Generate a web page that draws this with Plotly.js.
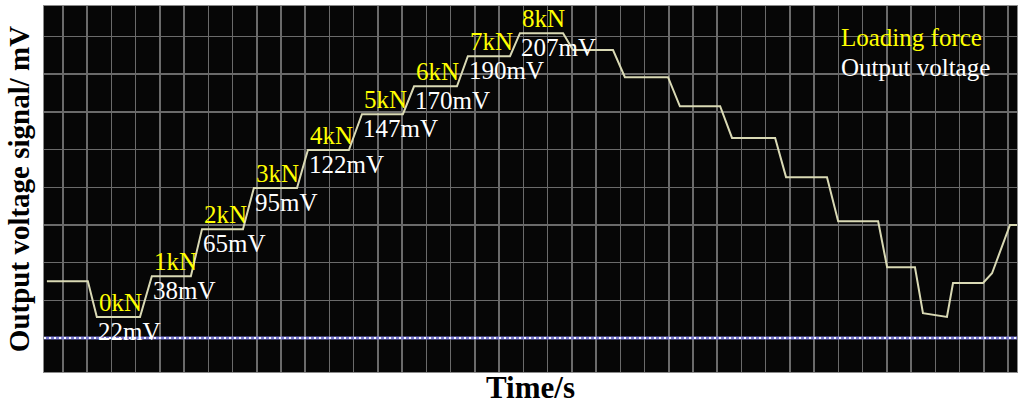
<!DOCTYPE html>
<html>
<head>
<meta charset="utf-8">
<script src="https://cdn.plot.ly/plotly-3.0.1.min.js"></script>
<style>html,body{margin:0;padding:0;background:#fff;}#chart{width:1024px;height:410px;}</style>
</head>
<body>
<div id="chart"></div>
<script>
// Oscilloscope trace (time in grid divisions, voltage in grid divisions)
const timeDiv = [-0.66, 1.03, 1.40, 3.18, 3.67, 5.28, 5.74, 7.43, 7.88, 9.66, 10.11, 11.80, 12.34, 14.03, 14.49, 16.26, 16.71, 18.45, 18.86, 20.64, 21.05, 22.70, 23.19, 24.97, 25.46, 27.12, 27.61, 29.39, 29.84, 31.53, 31.99, 33.64, 34.01, 35.16, 35.49, 36.48, 36.73, 37.97, 38.34, 39.08, 39.37];
const voltDiv = [1.51, 1.51, 0.56, 0.56, 1.64, 1.64, 2.89, 2.89, 3.98, 3.98, 4.99, 4.99, 5.94, 5.94, 6.68, 6.68, 7.48, 7.48, 8.09, 8.09, 7.64, 7.64, 6.92, 6.92, 6.15, 6.15, 5.31, 5.31, 4.27, 4.27, 3.10, 3.10, 1.88, 1.88, 0.66, 0.56, 1.46, 1.46, 1.72, 3.00, 3.00];
// Loading steps and their measured outputs
const forceLabels = ['0kN', '1kN', '2kN', '3kN', '4kN', '5kN', '6kN', '7kN', '8kN'];
const voltageLabels = ['22mV', '38mV', '65mV', '95mV', '122mV', '147mV', '170mV', '190mV', '207mV'];
const baselineLevel = 0;

const serif = '"Liberation Serif", "Times New Roman", serif';
const annotations = [];
forceLabels.forEach((t, k) => {
  const i = 2 + 2 * k; // start point of the k-th loading plateau
  annotations.push({x: timeDiv[i], y: voltDiv[i], xref: 'x', yref: 'y', text: t, showarrow: false,
    xanchor: 'left', yanchor: 'bottom', yshift: -1, font: {family: serif, size: 25, color: '#ffff00'}});
  annotations.push({x: timeDiv[i], y: voltDiv[i], xref: 'x', yref: 'y', text: voltageLabels[k], showarrow: false,
    xanchor: 'left', yanchor: 'top', yshift: 1, xshift: -1, font: {family: serif, size: 25, color: '#ffffff'}});
});
annotations.push({x: 0.817, y: 0.913, xref: 'paper', yref: 'paper', text: 'Loading force', showarrow: false,
  xanchor: 'left', yanchor: 'middle', font: {family: serif, size: 25, color: '#ffff00'}});
annotations.push({x: 0.817, y: 0.831, xref: 'paper', yref: 'paper', text: 'Output voltage', showarrow: false,
  xanchor: 'left', yanchor: 'middle', font: {family: serif, size: 25, color: '#ffffff'}});

const traces = [
  {x: timeDiv, y: voltDiv, type: 'scatter', mode: 'lines', line: {color: '#d9d9b4', width: 2}, hoverinfo: 'skip', showlegend: false}
];

const layout = {
  width: 1024, height: 410,
  margin: {l: 44, r: 7, t: 6, b: 38},
  paper_bgcolor: '#ffffff',
  plot_bgcolor: '#060606',
  showlegend: false,
  xaxis: {range: [-0.78, 39.37], tick0: 0, dtick: 1, showgrid: true, gridcolor: '#6a6a6a', gridwidth: 1.5,
    zeroline: false, showticklabels: false, ticks: '', showline: true, mirror: true, linecolor: '#8a8a8a', linewidth: 1,
    title: {text: 'Time/s', standoff: 4, font: {family: serif, size: 31, color: '#000', weight: 'bold'}}},
  yaxis: {range: [-0.90, 8.81], tick0: 0, dtick: 1, showgrid: true, gridcolor: '#6a6a6a', gridwidth: 1.5,
    zeroline: false, showticklabels: false, ticks: '', showline: true, mirror: true, linecolor: '#8a8a8a', linewidth: 1,
    title: {text: 'Output voltage signal/ mV', standoff: 4, font: {family: serif, size: 29, color: '#000', weight: 'bold'}}},
  shapes: [
    {type: 'line', xref: 'paper', x0: 0, x1: 1, yref: 'y', y0: baselineLevel, y1: baselineLevel, line: {color: '#7b7bd6', width: 3}},
    {type: 'line', xref: 'paper', x0: 0, x1: 1, yref: 'y', y0: baselineLevel, y1: baselineLevel, line: {color: '#ffffff', width: 2, dash: '2px,3px'}}
  ],
  annotations: annotations
};

Plotly.newPlot('chart', traces, layout, {staticPlot: true, displayModeBar: false});
</script>
</body>
</html>
